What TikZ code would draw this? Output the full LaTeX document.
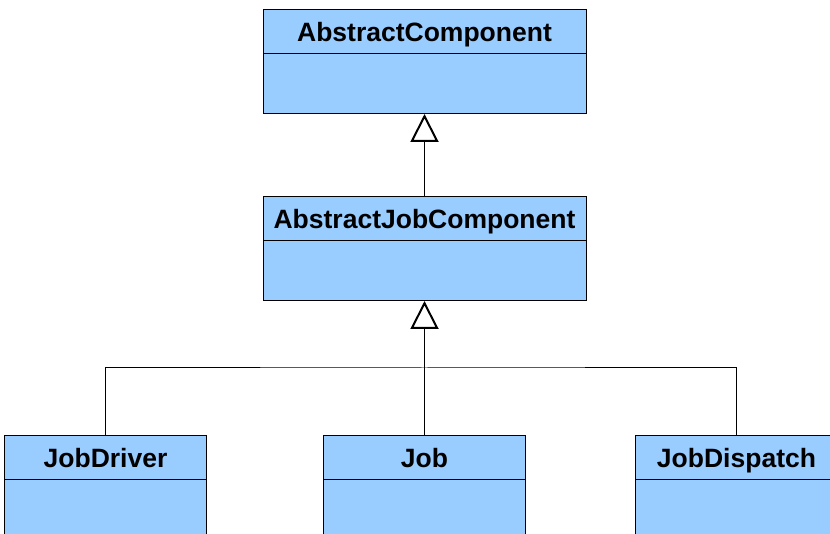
\documentclass[tikz,border=0pt]{standalone}
\usepackage{fontspec}
\setmainfont{Liberation Sans}
\usetikzlibrary{arrows.meta,positioning}
\definecolor{classblue}{HTML}{99CCFF}

\begin{document}
\begin{tikzpicture}[
        x=1pt, y=1pt,
        classhead/.style={rectangle, draw, fill=classblue, minimum width=323pt, minimum height=44pt, inner sep=0pt, outer sep=0pt, line width=1pt,
            font=\fontsize{26.5}{30}\selectfont\bfseries, text height=20pt, text depth=0pt},
        classbody/.style={rectangle, draw, fill=classblue, minimum width=323pt, minimum height=60pt, inner sep=0pt, outer sep=0pt, line width=1pt},
        narrow/.style={minimum width=202pt},
        inherit/.style={-{Triangle[open, width=28pt, length=28pt, line width=2pt]}, line width=1pt}
    ]
    \clip (0,0) rectangle (830,-534);

    % Base classes (top)
    \node[classhead] (abs-comp) at (424.5,-32) {AbstractComponent};
    \node[classbody, below=0pt of abs-comp] (abs-comp-body) {};

    \node[classhead, below=83pt of abs-comp-body] (abs-job-comp) {AbstractJobComponent};
    \node[classbody, below=0pt of abs-job-comp] (abs-job-comp-body) {};

    % Concrete classes (bottom)
    \node[classhead, narrow, below=134pt of abs-job-comp-body] (job) {Job};
    \node[classbody, narrow, below=0pt of job] (job-body) {};

    \node[classhead, narrow, left=117pt of job] (job-driver) {JobDriver};
    \node[classbody, narrow, below=0pt of job-driver] (job-driver-body) {};

    \node[classhead, narrow, right=110pt of job] (job-dispatch) {JobDispatch};
    \node[classbody, narrow, below=0pt of job-dispatch] (job-dispatch-body) {};

    % Inheritance
    \coordinate[below=67pt of abs-job-comp-body] (branch);
    \draw[inherit] (abs-job-comp.north) -- (abs-comp-body.south);
    \draw[inherit] (branch) -- (abs-job-comp-body.south);
    \draw[line width=1pt] (job-driver.north) |- (branch) -| (job-dispatch.north);
    \draw[line width=1pt] (job.north) -- (branch);

\end{tikzpicture}
\end{document}
